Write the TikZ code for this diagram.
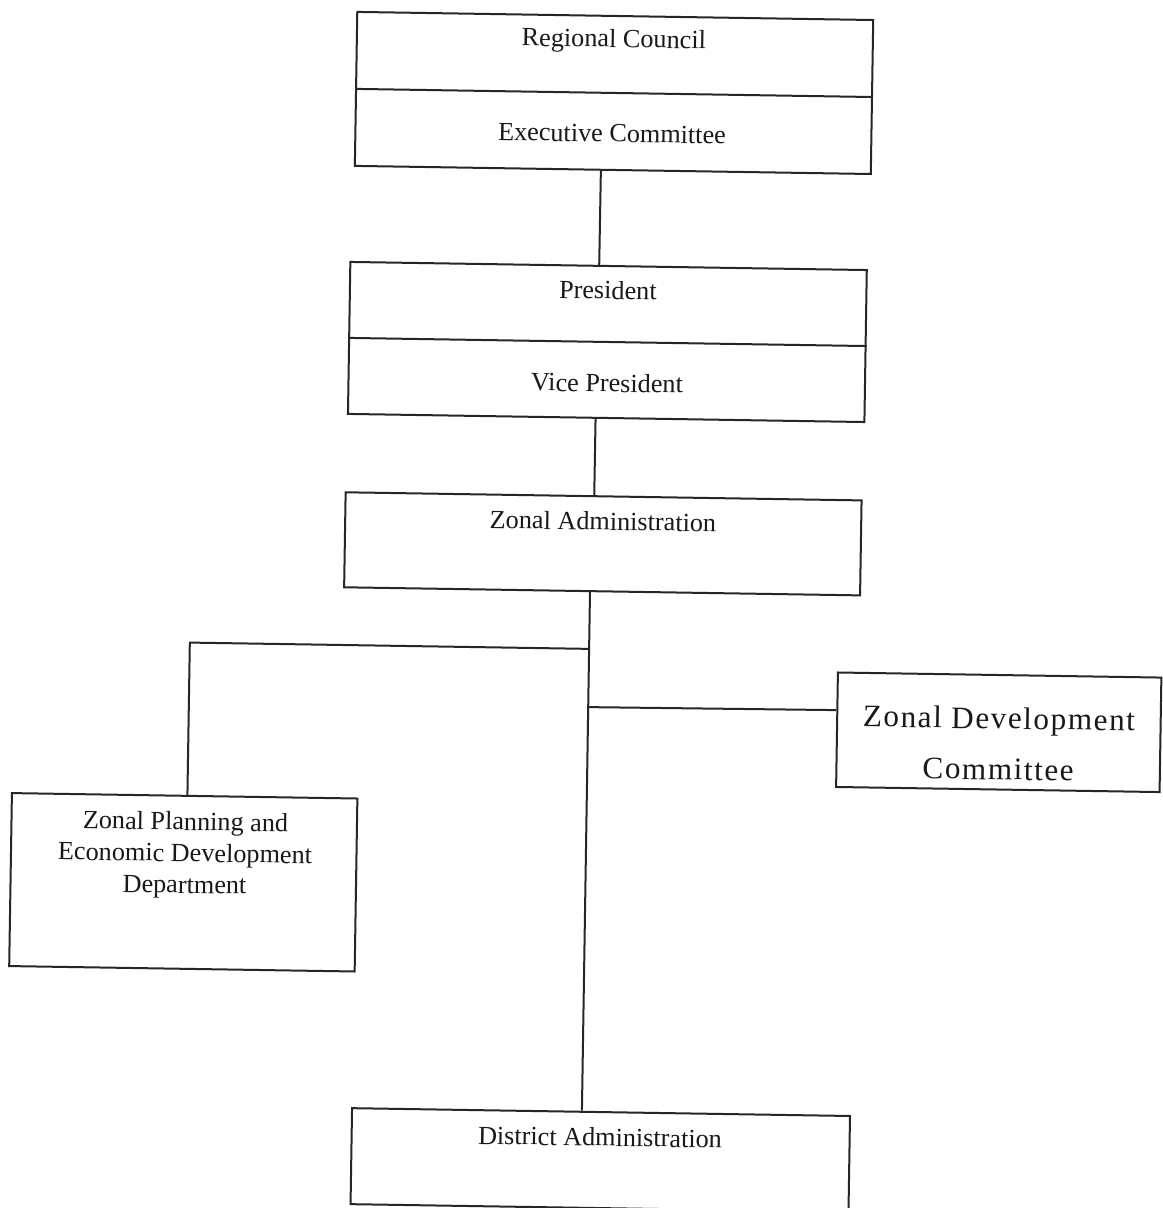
\documentclass[tikz,border=0pt]{standalone}
\usepackage{fontspec}
\setmainfont{Liberation Serif}
\usetikzlibrary{calc}
\begin{document}
\begin{tikzpicture}[x=0.5pt,y=-0.5pt,
  box/.style={draw=black!85, line width=1pt, inner sep=0pt, transform shape},
  lbl/.style={inner sep=0pt, transform shape, align=center, text=black!90,
              font=\fontsize{13.1}{15.75}\selectfont},
  biglbl/.style={inner sep=0pt, transform shape, align=center, text=black!90,
              font=\fontsize{15.6}{25.5}\selectfont\addfontfeatures{LetterSpace=5}},
  link/.style={draw=black!85, line width=1pt}]
\useasboundingbox (0,0) rectangle (1162,1208);
\fill[white] (0,0) rectangle (1162,1208);
\begin{scope}[rotate around={-0.9:(581,604)}]
  % boxes
  \node[box, minimum width=258pt, minimum height=77pt] (council) at (606,92.5) {};
  \node[box, minimum width=258.25pt, minimum height=76pt] (pres) at (603.25,341.6) {};
  \node[box, minimum width=258pt, minimum height=47.5pt] (zadm) at (601.9,543.5) {};
  \node[box, minimum width=172.75pt, minimum height=86.5pt] (zped) at (187.7,888.5) {};
  \node[box, minimum width=161.75pt, minimum height=57.25pt] (zdc) at (1000.7,725.7) {};
  \node[box, minimum width=249pt, minimum height=48pt] (dist) at (609,1159.7) {};

  % dividers of the two split boxes
  \draw[link] (council.west) -- (council.east);
  \draw[link] (pres.west) -- (pres.east);

  % labels
  \node[lbl] (councilT) at (605,40.5) {Regional Council};
  \node[lbl] (execT) at (604.6,133) {Executive Committee};
  \node[lbl] (presT) at (603,289.6) {President};
  \node[lbl] (vpT) at (603.5,382.6) {Vice President};
  \node[lbl] (zadmT) at (601.7,520.7) {Zonal Administration};
  \node[lbl] (zpedT) at (189,861.5) {Zonal Planning and\\Economic Development\\Department};
  \node[biglbl] (zdcT) at (1000.7,737) {Zonal Development\\Committee};
  \node[lbl] (distT) at (608.4,1136.7) {District Administration};

  % connector points
  \coordinate (c1a) at ($(council.south west)!0.477!(council.south east)$);
  \coordinate (c1b) at ($(pres.north west)!0.482!(pres.north east)$);
  \coordinate (c2a) at ($(pres.south west)!0.4796!(pres.south east)$);
  \coordinate (c2b) at ($(zadm.north west)!0.482!(zadm.north east)$);
  \coordinate (trTop) at ($(zadm.south west)!0.4767!(zadm.south east)$);
  \coordinate (trBot) at ($(dist.north west)!0.4618!(dist.north east)$);
  \coordinate (jl) at ($(trTop)!0.1095!(trBot)$);
  \coordinate (jr) at ($(trTop)!0.2218!(trBot)$);
  \coordinate (zpTop) at ($(zped.north west)!0.508!(zped.north east)$);
  \coordinate (zpBot) at ($(zped.south west)!0.508!(zped.south east)$);
  \coordinate (zpCorner) at ($(zpTop)!(jl)!(zpBot)$);
  \coordinate (zdIn) at ($(zdc.north west)!0.332!(zdc.south west)$);

  % connectors
  \draw[link] (c1a) -- (c1b);
  \draw[link] (c2a) -- (c2b);
  \draw[link] (trTop) -- (trBot);
  \draw[link] (jl) -- (zpCorner) -- (zpTop);
  \draw[link] (jr) -- (zdIn);
\end{scope}
\end{tikzpicture}
\end{document}
